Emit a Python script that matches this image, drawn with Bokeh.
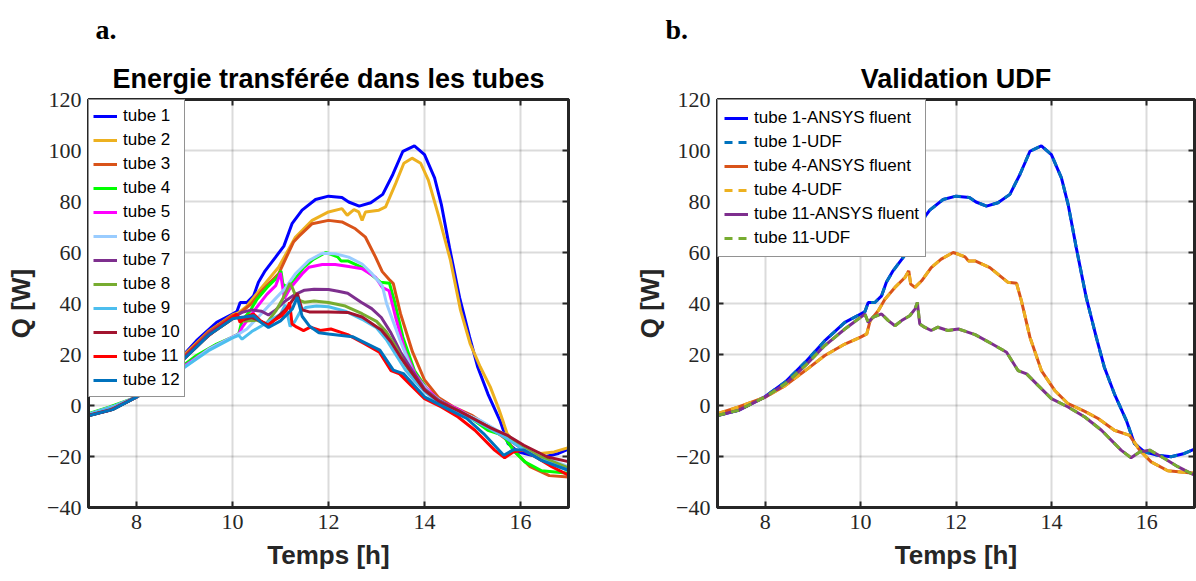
from bokeh.plotting import figure
from bokeh.models import (LinearAxis, Title, Legend, LegendItem, FixedTicker,
                          CustomJSTickFormatter, Range1d)
from bokeh.layouts import row
from bokeh.embed import file_html
from bokeh.resources import INLINE

# ---------------- data ----------------
X_TICKS = [8, 10, 12, 14, 16]
Y_TICKS = [-40, -20, 0, 20, 40, 60, 80, 100, 120]

t1 = [7.0, 7.44, 8.0, 8.42, 8.84, 9.25, 9.67, 10.0, 10.09, 10.16, 10.30, 10.44, 10.54, 10.68,
      10.89, 11.07, 11.24, 11.45, 11.73, 12.0, 12.28, 12.42, 12.64, 12.88, 13.13, 13.34, 13.55,
      13.79, 14.0, 14.21, 14.35, 14.52, 14.73, 14.94, 15.11, 15.32, 15.57, 15.74, 15.95, 16.23,
      16.51, 16.79, 17.0]
q1 = [-3.9, -1.9, 3.5, 9.2, 17.0, 25.4, 32.6, 35.9, 36.8, 40.4, 40.4, 43.0, 48.3, 52.8,
      58.0, 62.5, 71.3, 76.6, 80.8, 82.1, 81.6, 79.8, 78.2, 79.5, 82.8, 90.6, 99.7,
      101.8, 98.4, 89.3, 78.9, 62.0, 42.4, 26.8, 15.0, 4.6, -5.8, -14.9, -18.2, -19.5,
      -20.1, -18.8, -17.1]

t2 = [7.0, 7.5, 8.0, 8.5, 9.0, 9.5, 10.0, 10.13, 10.3, 10.61, 10.96, 11.31, 11.66, 12.0, 12.28,
      12.39, 12.53, 12.63, 12.70, 12.77, 13.05, 13.19, 13.40, 13.57, 13.74, 13.92, 14.08, 14.3,
      14.54, 14.75, 14.95, 15.16, 15.37, 15.55, 15.65, 15.72, 15.86, 16.07, 16.42, 16.70, 17.0]
q2 = [-3.9, -1.5, 3.4, 10.5, 20.0, 29.0, 35.5, 36.4, 39.0, 46.3, 54.2, 66.0, 72.6, 75.9, 77.2,
      74.6, 76.8, 75.9, 72.6, 75.9, 76.6, 77.9, 87.1, 95.0, 97.0, 95.0, 88.4, 74.0,
      57.0, 37.4, 24.3, 15.2, 7.3, -1.5, -7.0, -11.0, -14.2, -16.9, -18.8, -18.2, -16.5]

t3 = [7.0, 7.5, 8.0, 8.5, 9.0, 9.5, 10.0, 10.13, 10.4, 10.61, 10.96, 11.27, 11.38, 11.66, 12.0,
      12.28, 12.56, 12.77, 12.98, 13.12, 13.26, 13.35, 13.5, 13.75, 14.0, 14.3, 14.6, 15.0,
      15.4, 15.72, 15.9, 16.2, 16.6, 17.0]
q3 = [-3.9, -1.5, 3.4, 10.3, 19.5, 28.8, 35.3, 35.8, 40.0, 45.0, 51.6, 64.1, 66.3, 71.3, 72.6,
      72.0, 69.3, 66.0, 58.2, 52.5, 49.5, 47.8, 36.0, 21.0, 10.0, 3.0, -0.5, -4.0,
      -9.0, -13.5, -18.5, -24.0, -27.5, -28.0]

t4 = [7.0, 7.44, 8.0, 8.42, 8.84, 9.25, 9.67, 10.0, 10.13, 10.20, 10.37, 10.51, 10.72, 10.93,
      11.01, 11.05, 11.14, 11.28, 11.48, 11.69, 11.94, 12.05, 12.19, 12.26, 12.40, 12.71, 13.09,
      13.27, 13.37, 13.55, 13.79, 14.07, 14.35, 14.70, 14.98, 15.32, 15.64, 15.85, 16.09, 16.44,
      17.0]
q4 = [-3.2, -0.6, 3.3, 7.8, 13.7, 19.6, 24.1, 26.8, 28.1, 33.3, 37.2, 41.7, 46.3, 50.2,
      52.8, 47.6, 46.3, 48.9, 54.1, 57.4, 60.0, 59.3, 58.3, 56.7, 56.7, 54.1, 48.3,
      47.9, 41.1, 26.8, 13.7, 5.9, 0.7, -2.3, -5.1, -9.7, -11.7, -17.5, -22.1, -25.6,
      -26.6]

t5 = [7.0, 7.5, 8.0, 8.5, 9.0, 9.5, 10.0, 10.13, 10.2, 10.5, 10.72, 10.9, 11.0, 11.08, 11.2,
      11.45, 11.59, 11.87, 12.14, 12.42, 12.70, 12.98, 13.12, 13.26, 13.40, 13.6, 13.8, 14.0,
      14.3, 14.7, 15.0, 15.4, 15.72, 16.0, 16.4, 17.0]
q5 = [-3.5, -0.5, 3.3, 8.8, 15.5, 22.0, 26.8, 28.0, 30.6, 38.4, 43.7, 47.0, 52.0, 42.0, 46.0,
      51.6, 54.2, 55.3, 55.3, 54.5, 53.6, 50.3, 46.3, 45.0, 34.5, 21.0, 12.5, 7.5,
      2.0, -1.5, -4.8, -9.0, -12.5, -16.5, -21.0, -25.0]

t6 = [7.0, 7.5, 8.0, 8.5, 9.0, 9.5, 10.0, 10.13, 10.3, 10.6, 10.9, 11.1, 11.31, 11.59, 11.87,
      12.14, 12.42, 12.70, 12.91, 13.12, 13.21, 13.49, 13.77, 14.12, 14.47, 14.82, 15.16, 15.51,
      15.72, 16.07, 16.56, 17.0]
q6 = [-3.5, -0.5, 3.3, 8.8, 15.0, 22.0, 26.8, 28.0, 30.0, 36.0, 42.0, 46.0, 51.6, 56.8, 59.7,
      59.5, 58.2, 55.5, 51.6, 47.0, 40.0, 25.6, 12.5, 4.7, 0.1, -3.1, -5.8, -9.7,
      -11.6, -16.2, -20.8, -24.0]

t7 = [7.0, 7.5, 8.0, 8.5, 9.0, 9.5, 10.0, 10.1, 10.2, 10.4, 10.6, 10.75, 10.9, 11.1, 11.3, 11.5,
      11.7, 12.0, 12.2, 12.4, 12.68, 12.9, 13.1, 13.3, 13.5, 13.75, 14.0, 14.3, 14.7, 15.0, 15.4,
      15.72, 16.0, 16.4, 17.0]
q7 = [-3.9, -1.5, 3.4, 10.0, 19.0, 28.0, 34.5, 35.5, 36.5, 37.5, 37.0, 35.5, 37.5, 41.0, 43.5,
      45.2, 45.6, 45.5, 44.8, 44.0, 40.5, 38.0, 34.5, 28.5, 21.0, 13.5, 6.5, 2.0, -2.0, -5.0,
      -9.0, -13.0, -16.5, -20.5, -25.0]

t8 = [7.0, 7.5, 8.0, 8.5, 9.0, 9.5, 10.0, 10.1, 10.2, 10.5, 10.7, 10.9, 11.05, 11.2, 11.25,
      11.35, 11.5, 11.7, 12.0, 12.35, 12.7, 13.0, 13.2, 13.4, 13.6, 13.8, 14.0, 14.3, 14.7, 15.0,
      15.4, 15.72, 16.0, 16.4, 17.0]
q8 = [-3.9, -1.5, 3.4, 9.8, 18.5, 27.5, 34.0, 35.0, 33.0, 33.5, 32.0, 37.0, 42.0, 48.0, 46.0,
      41.5, 40.5, 41.0, 40.4, 39.0, 36.0, 33.0, 29.0, 23.0, 16.0, 10.5, 6.0, 1.5, -2.0, -5.0,
      -9.0, -12.5, -16.0, -20.0, -24.5]

t9 = [7.0, 7.5, 8.0, 8.5, 9.0, 9.5, 10.0, 10.13, 10.2, 10.4, 10.6, 10.8, 11.0, 11.1, 11.2, 11.3,
      11.4, 11.52, 11.75, 12.0, 12.35, 12.7, 13.0, 13.2, 13.4, 13.6, 13.8, 14.0, 14.3, 14.7, 15.0,
      15.4, 15.72, 16.0, 16.4, 17.0]
q9 = [-3.5, -0.5, 3.3, 8.8, 15.0, 21.5, 26.5, 27.5, 26.0, 29.0, 31.2, 33.5, 35.8, 39.5, 31.0,
      33.0, 36.5, 38.4, 39.0, 38.7, 37.0, 33.8, 30.5, 26.0, 20.0, 14.0, 9.5, 5.5, 1.0, -2.5,
      -5.5, -9.5, -13.0, -16.5, -21.0, -25.5]

t10 = [7.0, 7.5, 8.0, 8.5, 9.0, 9.5, 10.0, 10.1, 10.2, 10.4, 10.6, 10.75, 10.9, 11.1, 11.3,
       11.35, 11.45, 11.6, 12.0, 12.4, 12.7, 13.1, 13.3, 13.5, 13.75, 14.0, 14.3, 14.7, 15.0,
       15.4, 15.72, 16.07, 16.56, 17.0]
q10 = [-3.9, -1.5, 3.4, 9.8, 18.5, 27.5, 34.0, 35.0, 33.5, 34.5, 33.0, 31.5, 34.0, 37.5, 42.5,
       44.0, 37.5, 36.7, 36.7, 36.5, 34.7, 29.6, 25.0, 19.0, 12.5, 6.0, 1.5, -2.0, -5.0,
       -9.0, -11.6, -15.6, -20.2, -22.0]

t11 = [7.0, 7.44, 8.0, 8.42, 8.84, 9.25, 9.67, 10.0, 10.09, 10.16, 10.26, 10.44, 10.58, 10.72,
       10.86, 11.03, 11.14, 11.19, 11.24, 11.34, 11.48, 11.62, 11.83, 12.05, 12.26, 12.40, 12.75,
       13.06, 13.30, 13.48, 13.72, 14.0, 14.35, 14.70, 15.05, 15.46, 15.67, 15.85, 16.06, 16.37,
       16.65, 17.0]
q11 = [-3.9, -1.9, 3.3, 8.5, 15.6, 23.5, 30.0, 34.6, 35.9, 32.6, 34.6, 35.9, 33.3, 31.3,
       33.3, 35.2, 37.8, 40.4, 32.0, 30.7, 29.4, 30.7, 29.4, 30.0, 28.7, 27.8, 24.2,
       20.9, 13.7, 12.4, 7.9, 2.7, -0.6, -4.5, -9.7, -17.5, -20.5, -18.2, -17.5, -20.8,
       -24.0, -27.3]

t12 = [7.0, 7.5, 8.0, 8.5, 9.0, 9.5, 10.0, 10.16, 10.44, 10.6, 10.75, 11.0, 11.15, 11.25, 11.35,
       11.45, 11.6, 11.8, 12.0, 12.5, 13.07, 13.35, 13.56, 14.0, 14.47, 14.88, 15.23, 15.65,
       15.86, 16.07, 16.42, 17.0]
q12 = [-4.0, -1.6, 3.3, 9.8, 18.5, 27.5, 34.0, 34.5, 35.2, 32.5, 30.6, 33.2, 36.0, 38.0, 42.5,
       35.0, 31.2, 28.5, 28.0, 27.0, 21.7, 13.9, 12.5, 3.4, -1.2, -5.1, -11.0, -19.5,
       -17.3, -17.5, -21.4, -25.4]

TUBE_LABELS = ["tube %d" % i for i in range(1, 13)]
TUBE_T = [t1, t2, t3, t4, t5, t6, t7, t8, t9, t10, t11, t12]
TUBE_Q = [q1, q2, q3, q4, q5, q6, q7, q8, q9, q10, q11, q12]
TUBE_COLORS = ["#0000FF", "#EDB120", "#D95319", "#00FF00", "#FF00FF", "#99CCFF",
               "#7E2F8E", "#77AC30", "#4DBEEE", "#A2142F", "#FF0000", "#0072BD"]

VALID_LABELS = ["tube 1-ANSYS fluent", "tube 1-UDF", "tube 4-ANSYS fluent", "tube 4-UDF",
                "tube 11-ANSYS fluent", "tube 11-UDF"]
VALID_COLORS = ["#0000FF", "#0072BD", "#D95319", "#EDB120", "#7E2F8E", "#77AC30"]

DARK = "#262626"
SANS = "Liberation Sans"
SERIF = "Liberation Serif"


def style_axis(ax, labels=True):
    ax.axis_line_width = 3
    ax.axis_line_color = DARK
    ax.major_tick_in = 6
    ax.major_tick_out = 0
    ax.major_tick_line_width = 2
    ax.major_tick_line_color = DARK
    ax.minor_tick_line_color = None
    if labels:
        ax.major_label_text_font = SERIF
        ax.major_label_text_font_size = "22px"
        ax.major_label_text_color = DARK
        ax.major_label_standoff = 7
        ax.axis_label_text_font = SANS
        ax.axis_label_text_font_style = "bold"
        ax.axis_label_text_font_size = "26px"
        ax.axis_label_text_color = DARK
        ax.axis_label_standoff = 8
    else:
        ax.formatter = CustomJSTickFormatter(code="return ''")
        ax.major_label_standoff = 0


def make_fig(title, tag, tag_offset, left_border, right_border, frame_w):
    p = figure(frame_width=frame_w, frame_height=408,
               x_range=Range1d(7, 17), y_range=Range1d(-40, 120),
               output_backend="svg", toolbar_location=None, title=None,
               min_border_left=left_border, min_border_right=right_border,
               min_border_top=99, min_border_bottom=74)
    p.background_fill_color = "white"
    p.border_fill_color = "white"
    p.outline_line_color = DARK
    p.outline_line_width = 3
    p.outline_line_alpha = 1

    p.xaxis.ticker = FixedTicker(ticks=X_TICKS)
    p.yaxis.ticker = FixedTicker(ticks=Y_TICKS)
    p.xaxis.axis_label = "Temps [h]"
    p.yaxis.axis_label = "Q [W]"
    style_axis(p.xaxis[0])
    style_axis(p.yaxis[0])

    p.xgrid.ticker = FixedTicker(ticks=X_TICKS)
    p.ygrid.ticker = FixedTicker(ticks=Y_TICKS)
    p.grid.grid_line_color = "#000000"
    p.grid.grid_line_alpha = 0.14
    p.grid.grid_line_width = 2

    top_ax = LinearAxis(ticker=FixedTicker(ticks=X_TICKS))
    style_axis(top_ax, labels=False)
    p.add_layout(top_ax, "above")
    right_ax = LinearAxis(ticker=FixedTicker(ticks=Y_TICKS))
    style_axis(right_ax, labels=False)
    p.add_layout(right_ax, "right")

    p.add_layout(Title(text=title, text_font=SANS, text_font_style="bold",
                       text_font_size="27px", text_color="black", align="center",
                       standoff=12), "above")
    p.add_layout(Title(text=tag, text_font=SERIF, text_font_style="bold",
                       text_font_size="28px", text_color="black", align="left",
                       offset=tag_offset, standoff=22), "above")
    return p


def make_legend(items, padding):
    return Legend(items=items, location="top_left", margin=0, padding=padding,
                  spacing=0, glyph_width=24, glyph_height=24, label_height=24,
                  label_standoff=6, label_text_font=SANS, label_text_font_size="17px",
                  label_text_color="black", border_line_color=DARK,
                  border_line_width=1, background_fill_color="white",
                  background_fill_alpha=1)


# ---------------- left plot ----------------
p1 = make_fig("Energie transférée dans les tubes", "a.", 7, 88, 32, 480)
items1 = []
for lab, tt, qq, col in zip(TUBE_LABELS, TUBE_T, TUBE_Q, TUBE_COLORS):
    r = p1.line(tt, qq, line_color=col, line_width=3)
    items1.append(LegendItem(label=lab, renderers=[r]))
p1.add_layout(make_legend(items1, 4))

# ---------------- right plot ----------------
p2 = make_fig("Validation UDF", "b.", -52, 117, 2, 477)
pairs = [(t1, q1), (t1, q1), (t4, q4), (t4, q4), (t11, q11), (t11, q11)]
items2 = []
for i, (lab, (tt, qq), col) in enumerate(zip(VALID_LABELS, pairs, VALID_COLORS)):
    if i % 2 == 0:
        r = p2.line(tt, qq, line_color=col, line_width=3)
    else:
        r = p2.line(tt, qq, line_color=col, line_width=3, line_dash="8 6")
    items2.append(LegendItem(label=lab, renderers=[r]))
p2.add_layout(make_legend(items2, 6))

layout = row(p1, p2)
open("out.html", "w").write(file_html(layout, INLINE))
